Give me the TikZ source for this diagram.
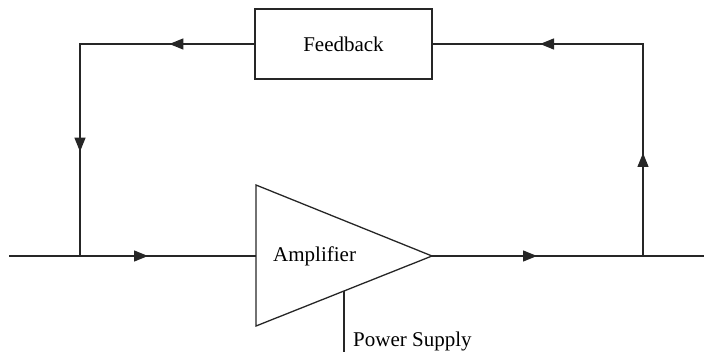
\documentclass[tikz,border=0pt]{standalone}
\usepackage{fontspec}
\setmainfont{Liberation Serif}
\usetikzlibrary{arrows.meta,decorations.markings}
\begin{document}
\begin{tikzpicture}[x=1pt,y=-1pt,
  wire/.style={line width=1.3pt,draw=black!85},
  lbl/.style={font=\fontsize{21}{25}\selectfont,inner sep=0pt},
  midarrow/.style={postaction={decorate},decoration={markings,
     mark=at position #1 with {\arrow{Triangle[length=14pt,width=11pt]}}}},
  twoarrows/.style 2 args={postaction={decorate},decoration={markings,
     mark=at position #1 with {\arrow{Triangle[length=14pt,width=11pt]}},
     mark=at position #2 with {\arrow{Triangle[length=14pt,width=11pt]}}}},
  fbbox/.style={draw=black!85,line width=1.3pt,minimum width=177pt,minimum height=70pt,inner sep=0pt,font=\fontsize{21}{25}\selectfont}]
\useasboundingbox (0,0) rectangle (704,352);
% coordinates
\coordinate (in) at (9,256);
\coordinate (ain) at (256,256);
\coordinate (atop) at (256,185);
\coordinate (abot) at (256,326);
\coordinate (aout) at (432,256);
\coordinate (j1) at (80,256);
\coordinate (j2) at (643,256);
\coordinate (out) at (704,256);
\coordinate (tl) at (80,44);
\coordinate (tr) at (643,44);
\coordinate (ps) at (344,291);
\coordinate (psend) at (344,352);
% feedback box
\node[fbbox] (fb) at (343.5,44) {Feedback};
% amplifier triangle
\draw[wire,line join=miter] (atop) -- (aout) -- (abot) -- cycle;
\node[lbl,anchor=base west] (amp) at (273,262) {Amplifier};
% forward path
\draw[wire,midarrow=139pt] (in) -- (ain);
\draw[wire,midarrow=105pt] (aout) -- (out);
% feedback path
\draw[wire,twoarrows={103pt}{315pt}] (j2) -- (tr) -- (fb.east);
\draw[wire,twoarrows={85pt}{282pt}] (fb.west) -- (tl) -- (j1);
% power supply
\draw[wire] (ps) -- (psend);
\node[lbl,anchor=base west] (pslbl) at (353,347) {Power Supply};
\end{tikzpicture}
\end{document}
